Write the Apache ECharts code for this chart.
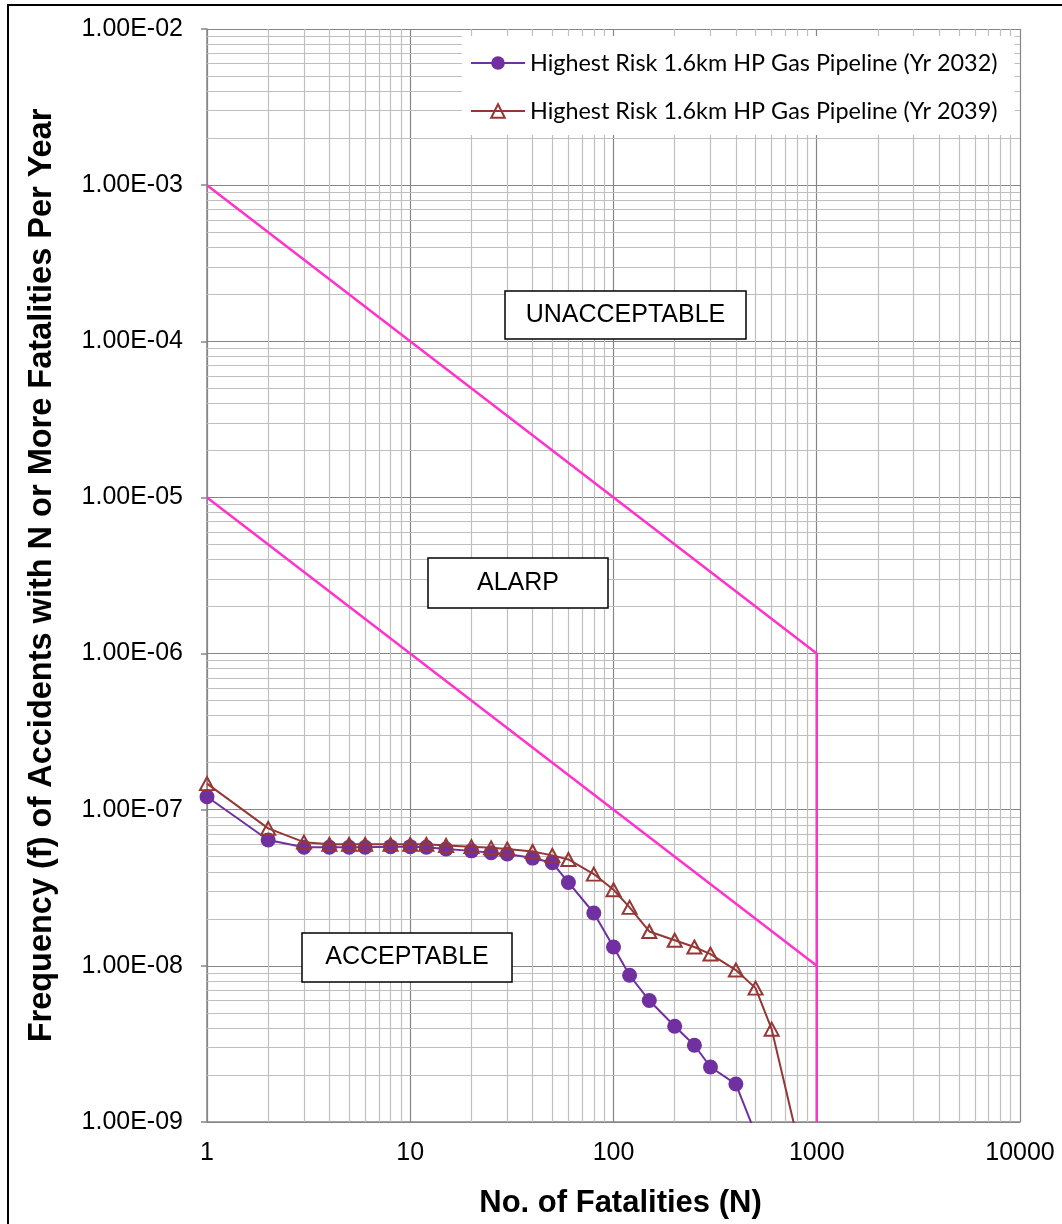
<!DOCTYPE html>
<html><head><meta charset="utf-8">
<script src="https://cdn.jsdelivr.net/npm/echarts@6/dist/echarts.min.js"></script>
<style>html,body{margin:0;padding:0;background:#fff}#c{width:1062px;height:1224px}</style>
</head><body><div id="c"></div>
<script>
// ---- data ----
const xTickLabels = ['1', '10', '100', '1000', '10000'];
const yTickLabels = ['1.00E-09', '1.00E-08', '1.00E-07', '1.00E-06', '1.00E-05', '1.00E-04', '1.00E-03', '1.00E-02'];
const seriesNames = ['Highest Risk 1.6km HP Gas Pipeline (Yr 2032)', 'Highest Risk 1.6km HP Gas Pipeline (Yr 2039)'];
const n2032 = [1, 2, 3, 4, 5, 6, 8, 10, 12, 15, 20, 25, 30, 40, 50, 60, 80, 100, 120, 150, 200, 250, 300, 400, 500];
const f2032 = [1.21e-7, 6.4e-8, 5.75e-8, 5.75e-8, 5.75e-8, 5.75e-8, 5.8e-8, 5.8e-8, 5.75e-8, 5.6e-8, 5.45e-8, 5.3e-8, 5.2e-8, 4.9e-8, 4.57e-8, 3.42e-8, 2.18e-8, 1.32e-8, 8.7e-9, 6.0e-9, 4.1e-9, 3.1e-9, 2.25e-9, 1.75e-9, 8.4e-10];
const n2039 = [1, 2, 3, 4, 5, 6, 8, 10, 12, 15, 20, 25, 30, 40, 50, 60, 80, 100, 120, 150, 200, 250, 300, 400, 500, 600, 800];
const f2039 = [1.47e-7, 7.6e-8, 6.2e-8, 6.0e-8, 6.0e-8, 6.0e-8, 6.0e-8, 6.0e-8, 6.0e-8, 5.9e-8, 5.8e-8, 5.7e-8, 5.6e-8, 5.4e-8, 5.1e-8, 4.8e-8, 3.87e-8, 3.07e-8, 2.37e-8, 1.66e-8, 1.46e-8, 1.32e-8, 1.19e-8, 9.4e-9, 7.2e-9, 3.93e-9, 8e-10];
const upperCriterionN = [1, 1000, 1000];
const upperCriterionF = [1e-3, 1e-6, 1e-9];
const lowerCriterionN = [1, 1000];
const lowerCriterionF = [1e-5, 1e-8];
const regionLabels = ['UNACCEPTABLE', 'ALARP', 'ACCEPTABLE'];
const xTitle = 'No. of Fatalities (N)';
const yTitle = 'Frequency (f) of Accidents with N or More Fatalities Per Year';
const xRange = [1, 10000];
const yRange = [1e-9, 1e-2];

// minor grid positions (2..9 in each decade)
const xMinor = [], yMinor = [];
for (let e = 0; e < 4; e++) for (let k = 2; k <= 9; k++) xMinor.push(k * Math.pow(10, e));
for (let e = -9; e < -2; e++) for (let k = 2; k <= 9; k++) yMinor.push(parseFloat((k * Math.pow(10, e)).toPrecision(3)));

const zip = (a, b) => a.map((v, i) => [v, b[i]]);
const ARIAL = '"Liberation Sans", Arial, sans-serif';
const MAGENTA = '#FF33CC';

const chart = echarts.init(document.getElementById('c'), null, { renderer: 'canvas' });

const minorLines = xMinor.map(v => [{ coord: [v, yRange[0]] }, { coord: [v, yRange[1]] }])
  .concat(yMinor.map(v => [{ coord: [xRange[0], v] }, { coord: [xRange[1], v] }]));

function box(x, y, w, h, text) {
  return {
    type: 'group',
    children: [
      { type: 'rect', shape: { x: x, y: y, width: w, height: h }, style: { fill: '#fff', stroke: '#000', lineWidth: 1.5 }, z: 20 },
      { type: 'text', x: x + w / 2, y: y + h / 2, style: { text: text, font: '25px ' + ARIAL, fill: '#000', align: 'center', verticalAlign: 'middle' }, z: 21 }
    ]
  };
}

chart.setOption({
  animation: false,
  backgroundColor: '#fff',
  grid: { left: 207, right: 42, top: 29, bottom: 102, containLabel: false },
  legend: {
    orient: 'vertical', align: 'left',
    left: 462, top: 36,
    padding: [13, 17, 10, 8],
    backgroundColor: '#fff',
    itemWidth: 54, itemHeight: 17, itemGap: 20,
    textStyle: { fontFamily: 'Lato', fontSize: 23.4, color: '#000', lineHeight: 28 },
    data: seriesNames,
    z: 10
  },
  xAxis: {
    type: 'log', logBase: 10, min: xRange[0], max: xRange[1], splitNumber: 4,
    name: xTitle, nameLocation: 'middle', nameGap: 66,
    nameTextStyle: { fontFamily: ARIAL, fontSize: 31, fontWeight: 'bold', color: '#000', padding: [0, 0, 0, 14] },
    axisLine: { show: true, lineStyle: { color: '#868686', width: 1.5 } },
    axisTick: { show: false },
    axisLabel: { margin: 19, fontFamily: ARIAL, fontSize: 25, color: '#000',
      formatter: v => xTickLabels[Math.round(Math.log10(v))] },
    splitLine: { show: true, lineStyle: { color: '#868686', width: 1.2 } },
    minorTick: { show: false }, minorSplitLine: { show: false }
  },
  yAxis: {
    type: 'log', logBase: 10, min: yRange[0], max: yRange[1], splitNumber: 7,
    name: yTitle, nameLocation: 'middle', nameGap: 148, nameRotate: 90,
    nameTextStyle: { fontFamily: ARIAL, fontSize: 32.5, fontWeight: 'bold', color: '#000' },
    axisLine: { show: true, lineStyle: { color: '#868686', width: 1.5 } },
    axisTick: { show: true, inside: false, length: 6, lineStyle: { color: '#868686', width: 1.5 } },
    axisLabel: { margin: 24, fontFamily: ARIAL, fontSize: 25, color: '#000',
      formatter: v => yTickLabels[Math.round(Math.log10(v)) + 9] },
    splitLine: { show: true, lineStyle: { color: '#868686', width: 1.2 } },
    minorTick: { show: false }, minorSplitLine: { show: false }
  },
  series: [
    {
      name: 'criterion-upper', type: 'line', data: zip(upperCriterionN, upperCriterionF),
      symbol: 'none', lineStyle: { color: MAGENTA, width: 2.5 }, silent: true, z: 3,
      markLine: {
        silent: true, symbol: 'none', z: 1, animation: false,
        label: { show: false },
        lineStyle: { color: '#BFBFBF', width: 1.2, type: 'solid' },
        emphasis: { disabled: true },
        data: minorLines
      }
    },
    {
      name: 'criterion-lower', type: 'line', data: zip(lowerCriterionN, lowerCriterionF),
      symbol: 'none', lineStyle: { color: MAGENTA, width: 2.5 }, silent: true, z: 3
    },
    {
      name: seriesNames[0], type: 'line', data: zip(n2032, f2032), clip: true,
      symbol: 'circle', symbolSize: 15,
      itemStyle: { color: '#7030A0' },
      lineStyle: { color: '#7030A0', width: 2 }, z: 4
    },
    {
      name: seriesNames[1], type: 'line', data: zip(n2039, f2039), clip: true,
      symbol: 'triangle', symbolSize: [14, 13],
      itemStyle: { color: 'rgba(0,0,0,0)', borderColor: '#953735', borderWidth: 2 },
      lineStyle: { color: '#953735', width: 2 }, z: 5
    }
  ],
  graphic: [
    { type: 'rect', shape: { x: 8, y: 5, width: 1070, height: 1240 }, style: { fill: 'none', stroke: '#000', lineWidth: 2 }, z: 30, silent: true },
    box(505, 291, 241, 48, regionLabels[0]),
    box(428, 558, 180, 50, regionLabels[1]),
    box(302, 933, 210, 49, regionLabels[2])
  ]
});
</script></body></html>
